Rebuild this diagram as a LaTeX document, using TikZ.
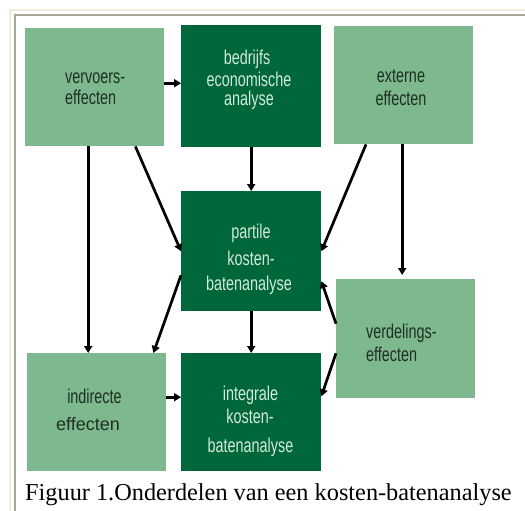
\documentclass[tikz,border=0pt]{standalone}
\usepackage{fontspec}
\setmainfont{Liberation Serif}
\newfontfamily\condfont[FakeStretch=0.72]{Liberation Sans}
\newfontfamily\plainsans{Liberation Sans}
\usetikzlibrary{arrows.meta,calc}
\definecolor{lightgreen}{HTML}{7DB88E}
\definecolor{darkgreen}{HTML}{00673A}
\definecolor{darktext}{HTML}{1E3024}
\definecolor{lighttext}{HTML}{D2EAD8}
\definecolor{framecream}{HTML}{EEEBDF}
\definecolor{framegray}{HTML}{A9A597}
\begin{document}
\begin{tikzpicture}[x=1pt,y=-1pt,
  boxbase/.style={draw=none, inner sep=0pt, anchor=north west, minimum width=139pt, minimum height=118pt},
  lightbox/.style={boxbase, fill=lightgreen},
  darkbox/.style={boxbase, fill=darkgreen},
  ltxt/.style={inner sep=0pt, anchor=base, text=darktext, font=\condfont\fontsize{20}{20}\selectfont},
  dtxt/.style={inner sep=0pt, anchor=base, text=lighttext, font=\condfont\fontsize{20}{20}\selectfont},
  conn/.style={line width=2.7pt, -{Triangle[length=7pt,width=8pt]}},
]
\useasboundingbox[fill=white] (0,0) rectangle (525,511);
% frame
\draw[framecream, line width=1.8pt] (9.8,511) -- (9.8,9.8) -- (525,9.8);
\draw[framegray, line width=1.8pt] (15,511) -- (15,15) -- (525,15);

% boxes
\node[lightbox, minimum width=139pt, minimum height=118pt] (ve) at (25,28) {};
\node[darkbox, minimum width=140pt, minimum height=122pt] (bd) at (181,25) {};
\node[lightbox, minimum width=139pt, minimum height=118pt] (ex) at (334,26) {};
\node[darkbox, minimum width=140pt, minimum height=120pt] (pa) at (181,191) {};
\node[lightbox, minimum width=139pt, minimum height=119pt] (vd) at (336,279) {};
\node[lightbox, minimum width=139pt, minimum height=118pt] (in) at (27,353) {};
\node[darkbox, minimum width=140pt, minimum height=118pt] (ig) at (181,353) {};

% texts
\node[ltxt, anchor=base west] (ve1) at (65,84) {vervoers-};
\node[ltxt, anchor=base west] (ve2) at (65,104) {effecten};
\node[dtxt] (bd1) at (247,65) {bedrijfs};
\node[dtxt] (bd2) at (249,86) {economische};
\node[dtxt] (bd3) at (249,106) {analyse};
\node[ltxt] (ex1) at (401,83) {externe};
\node[ltxt] (ex2) at (401,106) {effecten};
\node[dtxt] (pa1) at (251,238) {partile};
\node[dtxt] (pa2) at (251,265) {kosten-};
\node[dtxt] (pa3) at (249,290) {batenanalyse};
\node[ltxt, anchor=base west] (vd1) at (366,338) {verdelings-};
\node[ltxt, anchor=base west] (vd2) at (366,361) {effecten};
\node[ltxt] (in1) at (94.5,403) {indirecte};
\node[inner sep=0pt, anchor=base, text=darktext, font=\plainsans\fontsize{18}{18}\selectfont] (in2) at (88,430) {effecten};
\node[dtxt] (ig1) at (250.5,400) {integrale};
\node[dtxt] (ig2) at (250,423) {kosten-};
\node[dtxt] (ig3) at (250.5,452) {batenanalyse};

% caption
\node[inner sep=0pt, anchor=base west, font=\fontsize{24.3}{24.3}\selectfont] (cap) at (25,500) {Figuur 1.Onderdelen van een kosten-batenanalyse};

% connectors
\draw[conn] ([yshift=4pt]ve.east) -- ([yshift=4pt]ve.east -| bd.west);
\draw[conn] (bd.south) -- (pa.north);
\draw[conn] ([xshift=-29pt]ve.south east) -- (pa.west);
\draw[conn] ([xshift=32pt]ex.south west) -- (pa.east);
\draw[conn] ([xshift=-6.5pt]ve.south) -- ([xshift=-6.5pt]ve.south |- in.north);
\draw[conn, shorten >=4pt] ([xshift=-1.5pt]ex.south) -- ([xshift=-1.5pt]ex.south |- vd.north);
\draw[conn] (pa.south) -- (ig.north);
\draw[conn] ([yshift=-24pt]pa.west) -- ([xshift=-13pt]in.north east);
\draw[conn] ([yshift=15pt]vd.west) -- ([yshift=-30pt]pa.east);
\draw[conn] ([yshift=-14.5pt]vd.west) -- ([yshift=16pt]ig.east);
\draw[conn] ([yshift=15pt]in.east) -- ([yshift=15pt]in.east -| ig.west);
\end{tikzpicture}
\end{document}
